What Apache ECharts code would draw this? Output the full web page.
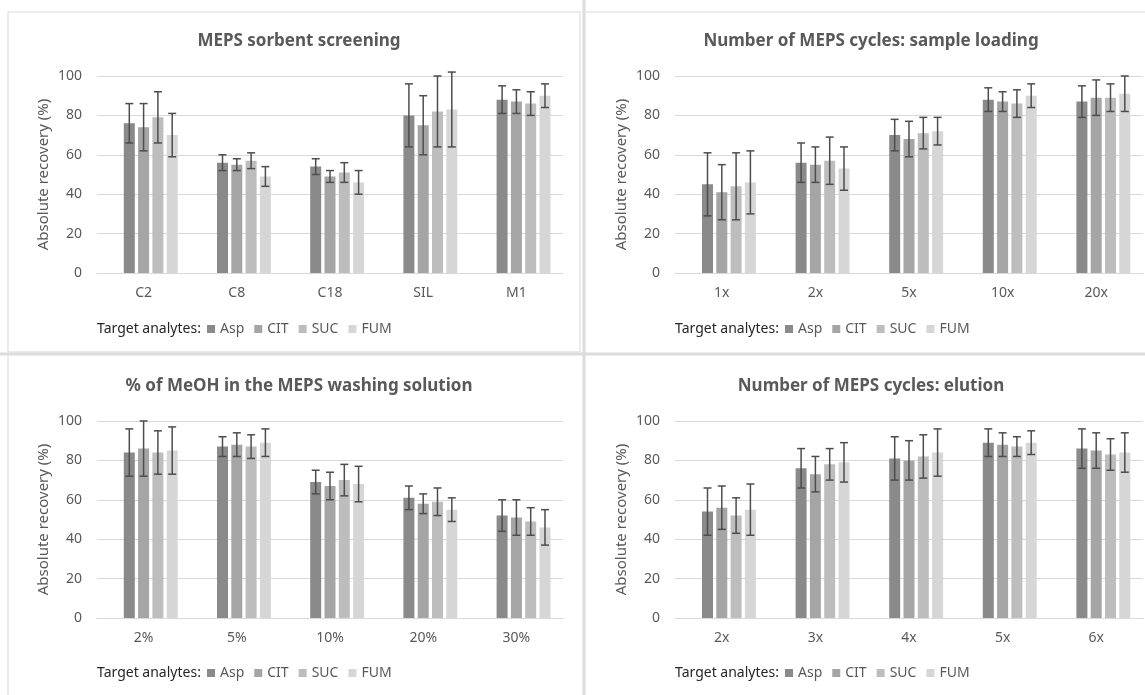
<!DOCTYPE html>
<html>
<head>
<meta charset="utf-8">
<script src="https://cdn.jsdelivr.net/npm/echarts@6/dist/echarts.min.js"></script>
<style>
html,body{margin:0;padding:0;background:#fff;}
#c{width:1145px;height:695px;}
</style>
</head>
<body>
<div id="c"></div>
<script>
// ---- data ----
const seriesNames = ['Asp', 'CIT', 'SUC', 'FUM'];
const legendLead = 'Target analytes:';
const yTicks = [0, 20, 40, 60, 80, 100];

const titles = [
  'MEPS sorbent screening',
  'Number of MEPS cycles: sample loading',
  '% of MeOH in the MEPS washing solution',
  'Number of MEPS cycles: elution'
];

const catsSorbent = ['C2', 'C8', 'C18', 'SIL', 'M1'];
const catsLoading = ['1x', '2x', '5x', '10x', '20x'];
const catsMeOH = ['2%', '5%', '10%', '20%', '30%'];
const catsElution = ['2x', '3x', '4x', '5x', '6x'];

// mean values per analyte (Asp, CIT, SUC, FUM)
const sorbentAsp = [76, 56, 54, 80, 88];
const sorbentCIT = [74, 55, 49, 75, 87];
const sorbentSUC = [79, 57, 51, 82, 86];
const sorbentFUM = [70, 49, 46, 83, 90];
const sorbentAspErr = [10, 4, 4, 16, 7];
const sorbentCITErr = [12, 3, 3, 15, 6];
const sorbentSUCErr = [13, 4, 5, 18, 6];
const sorbentFUMErr = [11, 5, 6, 19, 6];

const loadingAsp = [45, 56, 70, 88, 87];
const loadingCIT = [41, 55, 68, 87, 89];
const loadingSUC = [44, 57, 71, 86, 89];
const loadingFUM = [46, 53, 72, 90, 91];
const loadingAspErr = [16, 10, 8, 6, 8];
const loadingCITErr = [14, 9, 9, 5, 9];
const loadingSUCErr = [17, 12, 8, 7, 7];
const loadingFUMErr = [16, 11, 7, 6, 9];

const meohAsp = [84, 87, 69, 61, 52];
const meohCIT = [86, 88, 67, 58, 51];
const meohSUC = [84, 87, 70, 59, 49];
const meohFUM = [85, 89, 68, 55, 46];
const meohAspErr = [12, 5, 6, 6, 8];
const meohCITErr = [14, 6, 7, 5, 9];
const meohSUCErr = [11, 6, 8, 7, 7];
const meohFUMErr = [12, 7, 9, 6, 9];

const elutionAsp = [54, 76, 81, 89, 86];
const elutionCIT = [56, 73, 80, 88, 85];
const elutionSUC = [52, 78, 82, 87, 83];
const elutionFUM = [55, 79, 84, 89, 84];
const elutionAspErr = [12, 10, 11, 7, 10];
const elutionCITErr = [11, 9, 10, 6, 9];
const elutionSUCErr = [9, 8, 11, 5, 8];
const elutionFUMErr = [13, 10, 12, 6, 10];

// ---- build ----
const panels = [
  {cats: catsSorbent, vals: [sorbentAsp, sorbentCIT, sorbentSUC, sorbentFUM], errs: [sorbentAspErr, sorbentCITErr, sorbentSUCErr, sorbentFUMErr]},
  {cats: catsLoading, vals: [loadingAsp, loadingCIT, loadingSUC, loadingFUM], errs: [loadingAspErr, loadingCITErr, loadingSUCErr, loadingFUMErr]},
  {cats: catsMeOH, vals: [meohAsp, meohCIT, meohSUC, meohFUM], errs: [meohAspErr, meohCITErr, meohSUCErr, meohFUMErr]},
  {cats: catsElution, vals: [elutionAsp, elutionCIT, elutionSUC, elutionFUM], errs: [elutionAspErr, elutionCITErr, elutionSUCErr, elutionFUMErr]}
];

const colors = ['#8a8a8a', '#a5a5a5', '#bdbdbd', '#d6d6d6'];
const FONT = 'Noto Sans';
const BAR_W = 11;
const GAP = 0.3;

const layout = [
  {left: 97, top: 76, width: 466, cx: 294, ty: 28, ly: 329},
  {left: 675, top: 76, width: 468, cx: 866, ty: 28, ly: 329},
  {left: 97, top: 421, width: 466, cx: 294, ty: 373, ly: 673},
  {left: 675, top: 421, width: 468, cx: 866, ty: 373, ly: 673}
];
const PLOT_H = 197;

// the visible analytes sit in slots 1..4 of a 5-slot cluster (slot 0 is the empty lead entry)
function errRender(idx) {
  return function (params, api) {
    const x = api.value(0), v = api.value(1), e = api.value(2);
    const hi = api.coord([x, v + e]);
    const lo = api.coord([x, v - e]);
    const off = (idx + 1 - 2) * (BAR_W * (1 + GAP));
    const cx = hi[0] + off;
    const style = {stroke: '#4d4d4d', lineWidth: 1.5};
    const cap = 4;
    return {
      type: 'group',
      children: [
        {type: 'line', shape: {x1: cx, y1: hi[1], x2: cx, y2: lo[1]}, style},
        {type: 'line', shape: {x1: cx - cap, y1: hi[1], x2: cx + cap, y2: hi[1]}, style},
        {type: 'line', shape: {x1: cx - cap, y1: lo[1], x2: cx + cap, y2: lo[1]}, style}
      ]
    };
  };
}

const grid = [], xAxis = [], yAxis = [], series = [], title = [], legend = [], graphic = [];

panels.forEach((p, pi) => {
  const L = layout[pi];
  grid.push({left: L.left, top: L.top, width: L.width, height: PLOT_H});
  xAxis.push({
    type: 'category', gridIndex: pi, data: p.cats,
    axisLine: {lineStyle: {color: '#d9d9d9', width: 1}},
    axisTick: {show: false},
    axisLabel: {color: '#595959', fontFamily: FONT, fontSize: 14, margin: 13}
  });
  yAxis.push({
    type: 'value', gridIndex: pi, min: 0, max: 100, interval: 20,
    name: 'Absolute recovery (%)', nameLocation: 'middle', nameGap: 46,
    nameTextStyle: {color: '#595959', fontFamily: FONT, fontSize: 15},
    axisLine: {show: false}, axisTick: {show: false},
    axisLabel: {color: '#595959', fontFamily: FONT, fontSize: 14, margin: 15,
      formatter: v => yTicks.includes(v) ? String(v) : ''},
    splitLine: {lineStyle: {color: '#d9d9d9', width: 1}}
  });
  title.push({
    text: titles[pi], left: L.cx, top: L.ty, textAlign: 'center',
    textStyle: {color: '#595959', fontFamily: FONT, fontSize: 17, fontWeight: 'bold'}
  });
  legend.push({
    data: seriesNames, left: L.left + 110, top: L.ly - 7, padding: 0,
    icon: 'rect', itemWidth: 8, itemHeight: 8, itemGap: 10,
    textStyle: {color: '#595959', fontFamily: FONT, fontSize: 14},
    selectedMode: false
  });
  graphic.push({
    type: 'text', x: L.left, y: L.ly,
    style: {text: legendLead, fill: '#262626', font: '14px "Noto Sans"', verticalAlign: 'middle', textVerticalAlign: 'middle'}
  });
  // empty lead slot of the cluster
  series.push({
    type: 'bar', name: legendLead, xAxisIndex: pi, yAxisIndex: pi,
    data: p.cats.map(() => null), barWidth: BAR_W, barGap: (GAP * 100) + '%',
    itemStyle: {color: 'rgba(0,0,0,0)'}, silent: true
  });
  seriesNames.forEach((nm, si) => {
    series.push({
      type: 'bar', name: nm, xAxisIndex: pi, yAxisIndex: pi,
      data: p.vals[si], barWidth: BAR_W, barGap: (GAP * 100) + '%',
      itemStyle: {color: colors[si]}
    });
  });
  seriesNames.forEach((nm, si) => {
    series.push({
      type: 'custom', name: nm + ' err', xAxisIndex: pi, yAxisIndex: pi,
      renderItem: errRender(si),
      data: p.vals[si].map((v, i) => [i, v, p.errs[si][i]]),
      z: 5, silent: true
    });
  });
});

// panel frames
graphic.push(
  {type: 'rect', shape: {x: 8, y: 12, width: 572, height: 340}, style: {fill: 'none', stroke: '#d9d9d9', lineWidth: 1}, silent: true},
  {type: 'line', shape: {x1: 586, y1: 12, x2: 1145, y2: 12}, style: {stroke: '#d9d9d9', lineWidth: 1}, silent: true},
  {type: 'line', shape: {x1: 8, y1: 356, x2: 8, y2: 695}, style: {stroke: '#d9d9d9', lineWidth: 1}, silent: true},
  {type: 'line', shape: {x1: 584, y1: 0, x2: 584, y2: 695}, style: {stroke: '#dcdcdc', lineWidth: 3}, silent: true},
  {type: 'line', shape: {x1: 0, y1: 354, x2: 1145, y2: 354}, style: {stroke: '#dcdcdc', lineWidth: 3}, silent: true}
);

const chart = echarts.init(document.getElementById('c'));
chart.setOption({
  animation: false,
  backgroundColor: '#ffffff',
  color: colors,
  title, legend, grid, xAxis, yAxis, series, graphic
});
</script>
</body>
</html>
